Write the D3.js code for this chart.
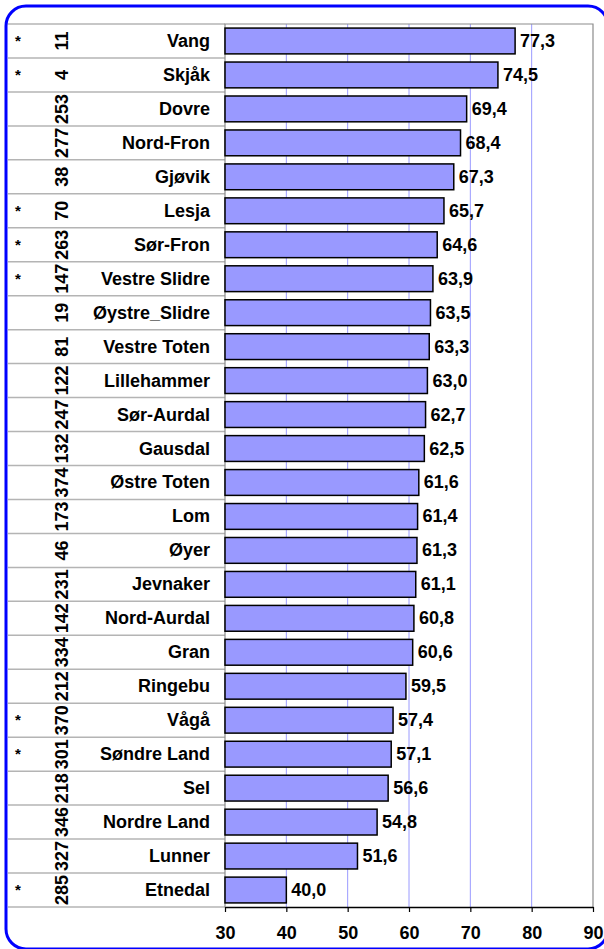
<!DOCTYPE html>
<html>
<head>
<meta charset="utf-8">
<script src="https://cdn.jsdelivr.net/npm/d3@7"></script>
<style>
  html, body { margin: 0; padding: 0; background: #ffffff; }
  svg { display: block; }
  text { font-family: "Liberation Sans", Arial, sans-serif; font-weight: bold; fill: #000; }
</style>
</head>
<body>
<svg id="chart" width="604" height="949"></svg>
<script>
// Municipalities, ranked by score
const names = ["Vang", "Skjåk", "Dovre", "Nord-Fron", "Gjøvik", "Lesja", "Sør-Fron",
  "Vestre Slidre", "Øystre_Slidre", "Vestre Toten", "Lillehammer", "Sør-Aurdal",
  "Gausdal", "Østre Toten", "Lom", "Øyer", "Jevnaker", "Nord-Aurdal", "Gran",
  "Ringebu", "Vågå", "Søndre Land", "Sel", "Nordre Land", "Lunner", "Etnedal"];
const marks = ["*", "*", "", "", "", "*", "*", "*", "", "", "", "", "", "", "", "",
  "", "", "", "", "*", "*", "", "", "", "*"];
const ranks = [11, 4, 253, 277, 38, 70, 263, 147, 19, 81, 122, 247, 132, 374, 173,
  46, 231, 142, 334, 212, 370, 301, 218, 346, 327, 285];
const values = [77.3, 74.5, 69.4, 68.4, 67.3, 65.7, 64.6, 63.9, 63.5, 63.3, 63.0,
  62.7, 62.5, 61.6, 61.4, 61.3, 61.1, 60.8, 60.6, 59.5, 57.4, 57.1, 56.6, 54.8,
  51.6, 40.0];
const xTicks = [30, 40, 50, 60, 70, 80, 90];

const svg = d3.select("#chart");

const plot = { left: 225, right: 593, top: 24, bottom: 907 };
const tableLeft = 8;

const x = d3.scaleLinear().domain([30, 90]).range([plot.left, plot.right]);
const row = d3.scaleBand().domain(names).range([plot.top, plot.bottom]).padding(0);
const barInset = row.bandwidth() * 0.12;
const barH = row.bandwidth() - 2 * barInset;

// Vertical gridlines
svg.append("g").selectAll("line")
  .data(xTicks.filter(t => t > 30 && t < 90))
  .join("line")
  .attr("x1", d => x(d)).attr("x2", d => x(d))
  .attr("y1", plot.top).attr("y2", plot.bottom)
  .attr("stroke", "#9a9aff").attr("stroke-width", 1);

// Row separators of the label table
svg.append("g").selectAll("line")
  .data(d3.range(names.length + 1))
  .join("line")
  .attr("x1", tableLeft).attr("x2", plot.left)
  .attr("y1", i => plot.top + i * row.step())
  .attr("y2", i => plot.top + i * row.step())
  .attr("stroke", "#b4b4b4").attr("stroke-width", 1.5);

// Plot frame (top, right, left)
svg.append("path")
  .attr("d", `M${plot.left},${plot.bottom} V${plot.top} H${plot.right} V${plot.bottom}`)
  .attr("fill", "none").attr("stroke", "#8c8c8c").attr("stroke-width", 1.2);

// Bars
svg.append("g").selectAll("rect")
  .data(values)
  .join("rect")
  .attr("x", x(30))
  .attr("y", (d, i) => row(names[i]) + barInset)
  .attr("width", d => x(d) - x(30))
  .attr("height", barH)
  .attr("fill", "#9999ff")
  .attr("stroke", "#000").attr("stroke-width", 1.5);

// Value labels
svg.append("g").selectAll("text")
  .data(values)
  .join("text")
  .attr("x", d => x(d) + 5)
  .attr("y", (d, i) => row(names[i]) + row.bandwidth() / 2)
  .attr("dominant-baseline", "central")
  .attr("font-size", 18)
  .text(d => d3.format(".1f")(d).replace(".", ","));

// Names, right aligned
svg.append("g").selectAll("text")
  .data(names)
  .join("text")
  .attr("x", 210)
  .attr("y", d => row(d) + row.bandwidth() / 2)
  .attr("text-anchor", "end")
  .attr("dominant-baseline", "central")
  .attr("font-size", 18)
  .text(d => d);

// Rank numbers, rotated
svg.append("g").selectAll("text")
  .data(ranks)
  .join("text")
  .attr("transform", (d, i) => `translate(62,${row(names[i]) + row.bandwidth() / 2}) rotate(-90)`)
  .attr("text-anchor", "middle")
  .attr("dominant-baseline", "central")
  .attr("font-size", 18)
  .text(d => d);

// Star markers
svg.append("g").selectAll("text")
  .data(marks)
  .join("text")
  .attr("x", 18)
  .attr("y", (d, i) => row(names[i]) + row.bandwidth() / 2 + 5)
  .attr("text-anchor", "middle")
  .attr("font-size", 15)
  .attr("font-weight", "normal")
  .text(d => d);

// Bottom axis
const axis = svg.append("g")
  .attr("transform", `translate(0,${plot.bottom})`)
  .call(d3.axisBottom(x).tickValues(xTicks).tickSize(5).tickSizeOuter(0).tickPadding(14));
axis.select(".domain").attr("stroke", "#000").attr("stroke-width", 1.5);
axis.selectAll(".tick line").attr("stroke", "#000").attr("stroke-width", 1.2);
axis.selectAll(".tick text")
  .attr("font-size", 18)
  .attr("font-family", "Liberation Sans, Arial, sans-serif")
  .attr("font-weight", "bold")
  .attr("fill", "#000");

// Rounded outer frame
svg.append("rect")
  .attr("x", 6).attr("y", 6)
  .attr("width", 602).attr("height", 943)
  .attr("rx", 20).attr("ry", 20)
  .attr("fill", "none")
  .attr("stroke", "#0000ff").attr("stroke-width", 3);
</script>
</body>
</html>
